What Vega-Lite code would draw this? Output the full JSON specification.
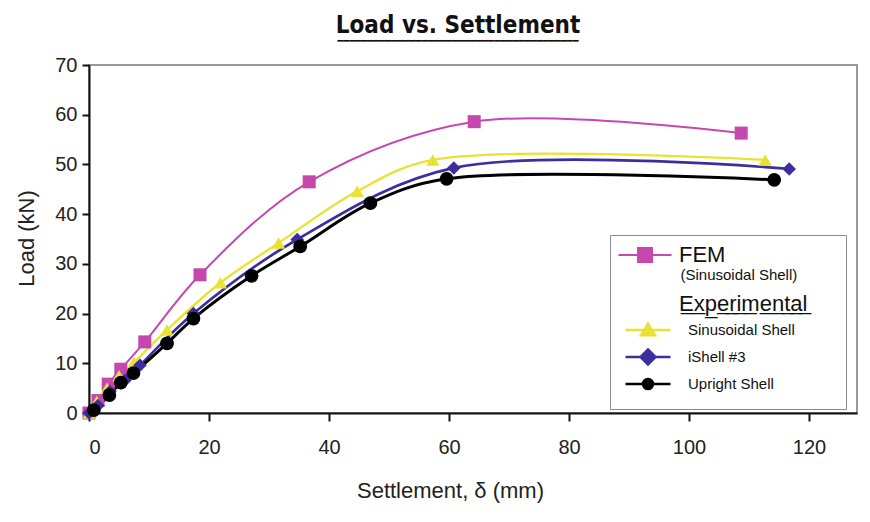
{
  "$schema": "https://vega.github.io/schema/vega-lite/v6.json",
  "width": 768,
  "height": 348,
  "autosize": {"type": "none"},
  "padding": {"left": 89, "top": 65, "right": 13, "bottom": 109},
  "background": "white",
  "title": {
    "text": "Load vs. Settlement",
    "font": "Liberation Sans Narrow, DejaVu Sans Condensed, sans-serif",
    "fontSize": 24,
    "fontWeight": "bold",
    "color": "#111111",
    "anchor": "middle",
    "dx": -15,
    "offset": 9,
    "subtitle": "\u2501\u2501\u2501\u2501\u2501\u2501\u2501\u2501\u2501\u2501\u2501\u2501\u2501\u2501\u2501\u2501\u2501\u2501\u2501\u2501\u2501\u2501\u2501\u2501\u2501\u2501\u2501\u2501\u2501\u2501\u2501\u2501\u2501\u2501\u2501\u2501\u2501\u2501\u2501\u2501",
    "subtitleFont": "DejaVu Sans Mono",
    "subtitleFontSize": 10,
    "subtitleColor": "#111111",
    "subtitlePadding": -2
  },
  "config": {
    "view": {"stroke": "#999999", "strokeWidth": 2},
    "axis": {
      "labelFont": "Liberation Sans",
      "titleFont": "Liberation Sans",
      "labelColor": "#222222",
      "titleColor": "#222222",
      "labelFontSize": 20,
      "titleFontSize": 22,
      "titleFontWeight": "normal",
      "domainColor": "#111111",
      "domainWidth": 2,
      "tickColor": "#111111",
      "tickWidth": 2,
      "grid": false
    }
  },
  "data": {
    "values": [
      {"series": "FEM", "x": 0, "y": 0},
      {"series": "FEM", "x": 1.5, "y": 2.5},
      {"series": "FEM", "x": 3.2, "y": 5.8},
      {"series": "FEM", "x": 5.3, "y": 8.8},
      {"series": "FEM", "x": 9.3, "y": 14.3},
      {"series": "FEM", "x": 18.5, "y": 27.8},
      {"series": "FEM", "x": 36.7, "y": 46.5},
      {"series": "FEM", "x": 64.2, "y": 58.6},
      {"series": "FEM", "x": 108.7, "y": 56.3},
      {"series": "Sinusoidal Shell", "x": 0, "y": 0},
      {"series": "Sinusoidal Shell", "x": 1.3, "y": 2.3},
      {"series": "Sinusoidal Shell", "x": 3.0, "y": 5.0},
      {"series": "Sinusoidal Shell", "x": 5.0, "y": 7.5},
      {"series": "Sinusoidal Shell", "x": 7.5, "y": 10.2},
      {"series": "Sinusoidal Shell", "x": 13.0, "y": 16.7},
      {"series": "Sinusoidal Shell", "x": 21.9, "y": 26.2},
      {"series": "Sinusoidal Shell", "x": 31.6, "y": 34.2},
      {"series": "Sinusoidal Shell", "x": 44.7, "y": 44.6},
      {"series": "Sinusoidal Shell", "x": 57.3, "y": 50.9},
      {"series": "Sinusoidal Shell", "x": 112.7, "y": 50.9},
      {"series": "iShell #3", "x": 0, "y": 0},
      {"series": "iShell #3", "x": 1.5, "y": 1.5},
      {"series": "iShell #3", "x": 3.5, "y": 4.3},
      {"series": "iShell #3", "x": 6.0, "y": 6.6},
      {"series": "iShell #3", "x": 8.5, "y": 9.6},
      {"series": "iShell #3", "x": 17.4, "y": 20.0},
      {"series": "iShell #3", "x": 34.7, "y": 34.9},
      {"series": "iShell #3", "x": 60.8, "y": 49.3},
      {"series": "iShell #3", "x": 116.7, "y": 49.1},
      {"series": "Upright Shell", "x": 0.8, "y": 0.6},
      {"series": "Upright Shell", "x": 3.4, "y": 3.6},
      {"series": "Upright Shell", "x": 5.3, "y": 6.1},
      {"series": "Upright Shell", "x": 7.4, "y": 8.0},
      {"series": "Upright Shell", "x": 13.0, "y": 14.0},
      {"series": "Upright Shell", "x": 17.4, "y": 19.0},
      {"series": "Upright Shell", "x": 27.1, "y": 27.6},
      {"series": "Upright Shell", "x": 35.2, "y": 33.5},
      {"series": "Upright Shell", "x": 46.9, "y": 42.2},
      {"series": "Upright Shell", "x": 59.6, "y": 47.1},
      {"series": "Upright Shell", "x": 114.2, "y": 46.9}
    ]
  },
  "encoding": {
    "x": {
      "field": "x",
      "type": "quantitative",
      "scale": {"domain": [0, 128], "nice": false, "zero": false},
      "axis": {
        "title": "Settlement, \u03b4 (mm)",
        "values": [0, 20, 40, 60, 80, 100, 120],
        "tickSize": 8,
        "labelPadding": 16,
        "titleX": 361,
        "titleY": 67,
        "titleAnchor": "middle"
      }
    },
    "y": {
      "field": "y",
      "type": "quantitative",
      "scale": {"domain": [0, 70], "nice": false},
      "axis": {
        "title": "Load (kN)",
        "values": [0, 10, 20, 30, 40, 50, 60, 70],
        "tickSize": 7,
        "labelPadding": 5,
        "titleX": -51,
        "titleY": 173,
        "titleAnchor": "middle"
      }
    }
  },
  "layer": [
    {
      "mark": {"type": "line", "interpolate": "catmull-rom"},
      "encoding": {
        "color": {
          "field": "series",
          "type": "nominal",
          "scale": {
            "domain": ["FEM", "Sinusoidal Shell", "iShell #3", "Upright Shell"],
            "range": ["#C648AE", "#E9E232", "#3D2E9E", "#000000"]
          },
          "legend": null
        },
        "strokeWidth": {
          "field": "series",
          "type": "nominal",
          "scale": {
            "domain": ["FEM", "Sinusoidal Shell", "iShell #3", "Upright Shell"],
            "range": [2, 3, 2.2, 2.5]
          },
          "legend": null
        }
      }
    },
    {
      "mark": {"type": "point", "filled": true, "opacity": 1},
      "encoding": {
        "color": {
          "field": "series",
          "type": "nominal",
          "scale": {
            "domain": ["FEM", "Sinusoidal Shell", "iShell #3", "Upright Shell"],
            "range": ["#C648AE", "#E9E232", "#3D2E9E", "#000000"]
          },
          "legend": null
        },
        "shape": {
          "field": "series",
          "type": "nominal",
          "scale": {
            "domain": ["FEM", "Sinusoidal Shell", "iShell #3", "Upright Shell"],
            "range": ["square", "triangle-up", "diamond", "circle"]
          },
          "legend": null
        },
        "size": {
          "field": "series",
          "type": "nominal",
          "scale": {
            "domain": ["FEM", "Sinusoidal Shell", "iShell #3", "Upright Shell"],
            "range": [170, 190, 210, 95]
          },
          "legend": null
        }
      }
    },
    {
      "transform": [{"filter": "datum.series == 'none'"}],
      "mark": {"type": "point", "filled": true, "opacity": 1, "strokeWidth": 2},
      "encoding": {
        "fill": {
          "field": "series",
          "type": "nominal",
          "scale": {"domain": ["FEM"], "range": ["#C648AE"]}
        },
        "stroke": {
          "field": "series",
          "type": "nominal",
          "scale": {"domain": ["FEM"], "range": ["#C648AE"]}
        },
        "shape": {
          "field": "series",
          "type": "nominal",
          "scale": {"domain": ["FEM"], "range": ["M-3.79,0H3.79M-1,-1H1V1H-1Z"]},
          "legend": {
            "orient": "none",
            "legendX": 529,
            "legendY": 179,
            "padding": 0,
            "symbolSize": 196,
            "symbolOffset": 16,
            "symbolStrokeWidth": 2,
            "labelOffset": 23,
            "labelFont": "Liberation Sans",
            "labelFontSize": 22,
            "labelColor": "#111111",
            "title": "\u200b\u00a0\u00a0\u00a0\u00a0\u00a0\u00a0\u00a0\u00a0\u00a0\u00a0\u00a0\u00a0\u00a0\u00a0\u00a0(Sinusoidal Shell)",
            "titleOrient": "bottom",
            "titleFont": "Liberation Sans",
            "titleFontSize": 15,
            "titleFontWeight": "normal",
            "titleColor": "#111111",
            "titlePadding": 2,
            "titleLimit": 400
          }
        }
      }
    },
    {
      "transform": [{"filter": "datum.series == 'none'"}],
      "mark": {"type": "point", "filled": true, "opacity": 1, "strokeWidth": 2.5},
      "encoding": {
        "fill": {
          "field": "series",
          "type": "nominal",
          "scale": {"domain": ["Sinusoidal Shell", "iShell #3", "Upright Shell"], "range": ["#E9E232", "#3D2E9E", "#000000"]}
        },
        "stroke": {
          "field": "series",
          "type": "nominal",
          "scale": {"domain": ["Sinusoidal Shell", "iShell #3", "Upright Shell"], "range": ["#E9E232", "#3D2E9E", "#000000"]}
        },
        "shape": {
          "field": "series",
          "type": "nominal",
          "scale": {
            "domain": ["Sinusoidal Shell", "iShell #3", "Upright Shell"],
            "range": [
              "M-3,0H3M0,-0.85L0.93,0.7L-0.93,0.7Z",
              "M-3,0H3M0,-1L1,0L0,1L-1,0Z",
              "M-3,0H3M-0.67,0A0.67,0.67 0 1,0 0.67,0A0.67,0.67 0 1,0 -0.67,0Z"
            ]
          },
          "legend": {
            "orient": "none",
            "legendX": 521,
            "legendY": 170,
            "padding": 14,
            "strokeColor": "#8a8a8a",
            "symbolSize": 225,
            "symbolOffset": 15,
            "symbolStrokeWidth": 2.5,
            "labelOffset": 31,
            "labelFont": "Liberation Sans",
            "labelFontSize": 15,
            "labelColor": "#111111",
            "rowPadding": 3,
            "title": ["\u200b\u00a0", "\u200b\u00a0\u00a0\u00a0\u00a0\u00a0\u00a0\u00a0\u00a0\u00a0E\u0332x\u0332p\u0332e\u0332r\u0332i\u0332m\u0332e\u0332n\u0332t\u0332a\u0332l\u0332\u00a0\u00a0\u00a0\u00a0\u200b"],
            "titleLineHeight": 45,
            "titleFont": "Liberation Sans",
            "titleFontSize": 22,
            "titleFontWeight": "normal",
            "titleColor": "#111111",
            "titlePadding": 5,
            "titleLimit": 400
          }
        }
      }
    }
  ],
  "resolve": {
    "scale": {
      "color": "independent",
      "shape": "independent",
      "fill": "independent",
      "stroke": "independent",
      "size": "independent",
      "strokeWidth": "independent"
    }
  }
}
